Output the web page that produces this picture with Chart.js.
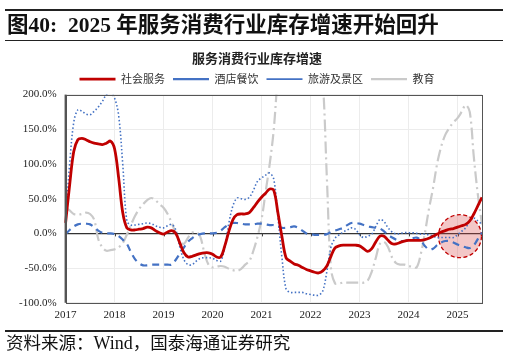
<!DOCTYPE html>
<html><head><meta charset="utf-8">
<script src="https://cdn.jsdelivr.net/npm/chart.js@4"></script>
<style>
html,body{margin:0;padding:0;background:#fff;}
#wrap{position:relative;width:512px;height:355px;overflow:hidden;}
#c{position:absolute;left:0;top:0;}
.hl{position:absolute;left:5px;width:498px;background:#222;}
#hdr{position:absolute;left:7px;top:7px;font-family:"Liberation Serif","Noto Sans CJK SC",serif;font-weight:bold;font-size:21.5px;color:#111;white-space:nowrap;}
#hdr .cj{font-family:"Noto Sans CJK SC",sans-serif;}
#ftr{position:absolute;left:6px;top:329px;font-family:"Noto Sans CJK SC","Liberation Serif",serif;font-size:17.5px;color:#111;white-space:nowrap;}
#ftr .w{font-family:"Liberation Serif",serif;font-size:18px;}
</style></head>
<body><div id="wrap">
<canvas id="c" width="512" height="355"></canvas>
<div class="hl" style="top:9px;height:2px"></div>
<div id="hdr"><span class="cj">图</span>40:&nbsp; 2025 <span class="cj">年服务消费行业库存增速开始回升</span></div>
<div class="hl" style="top:40px;height:1px"></div>
<div class="hl" style="top:330px;height:2px"></div>
<div id="ftr">资料来源：<span class="w">Wind</span>，国泰海通证券研究</div>
</div>
<script>
// ---- data (monthly, 2017-01 .. 2025-07) ----
const START_YEAR = 2017;
const N_MONTHS = 103;
const months = [];
for (let i = 0; i < N_MONTHS; i++) {
  const y = START_YEAR + Math.floor(i / 12), m = (i % 12) + 1;
  months.push(y + '-' + (m < 10 ? '0' + m : m));
}
const seriesNames = ['社会服务', '酒店餐饮', '旅游及景区', '教育'];
const socialService = [15,70,118,135,137,135,132,130,129,128,130,133,122,80,30,8,5,5,6,7,9,8,4,1,
 -1,2,4,0,-14,-28,-34,-33,-31,-29,-28,-28,-30,-34,-34,-18,3,20,27,28,28,30,37,45,
 52,58,64,62,30,-5,-35,-40,-44,-46,-49,-52,-54,-56,-57,-54,-47,-33,-21,-18,-17,-17,-17,-17,
 -18,-22,-26,-22,-12,-4,-4,-10,-15,-15,-13,-11,-10,-10,-10,-10,-9,-7,-4,-1,2,4,6,7,
 9,11,13,18,28,40,52];
const hotelCatering = [-1,5,10,13,14,14,13,9,4,1,0,0,-1,-4,-9,-15,-27,-37,-43,-46,-46,-45,-45,-45,
 -45,-45,-45,-38,-29,-20,-12,-7,-3,-1,0,0,0,1,4,9,13,15,15,14,13,13,13,14,
 14,13,12,12,10,8,8,9,10,8,4,0,-1,-2,-2,-2,-1,2,4,6,8,12,15,15,
 14,12,10,9,8,7,3,-2,-6,-9,-11,-11,-9,-7,-6,-10,-18,-23,-22,-17,-13,-11,-11,-13,
 -16,-18,-20,-21,-17,-8,1];
const tourism = [18,100,160,178,176,172,171,176,182,190,200,202,195,170,100,18,12,12,13,14,15,14,11,9,
 8,11,13,5,-20,-38,-45,-45,-40,-36,-35,-35,-36,-39,-40,-20,15,40,51,50,49,52,62,75,
 80,84,87,78,25,-35,-80,-85,-85,-85,-85,-87,-88,-89,-89,-83,-55,-20,-7,-2,2,5,8,6,
 -2,-6,-4,-1,10,20,17,8,2,-1,0,1,1,1,0,-1,-1,-2,-4,-6,-6,-6,-6,-6,
 -2,3,8,18,22,18,13];
const education = [37,33,28,27,28,30,28,20,-8,-20,-25,-24,-23,-20,-14,-2,12,25,35,42,48,51,48,42,
 37,28,15,0,-12,-15,-6,1,2,-5,-28,-45,-49,-48,-47,-48,-51,-53,-54,-51,-45,-40,-25,-5,
 20,60,100,150,230,290,310,320,320,320,320,320,310,290,260,220,80,-50,-72,-72,-71,-71,-71,-71,
 -71,-71,-68,-55,-35,-15,-12,-20,-35,-43,-45,-45,-47,-48,-49,-30,0,35,65,100,125,142,152,160,
 166,175,185,175,110,55,13];
const yTicks = [-100, -50, 0, 50, 100, 150, 200];
const highlight = { month: 96.6, value: -4 };   // circled region (index, %)

// ---- plugins ----
const shiftHeadPlugin = {
  id: 'shiftHead',
  afterLayout(chart) {
    const dx = 11;
    [chart.titleBlock, chart.legend].forEach(b => { if (b) { b.left += dx; b.right += dx; } });
  }
};
const framePlugin = {
  id: 'frame',
  beforeDatasetsDraw(chart) {
    const { ctx, chartArea: a, scales: { x, y } } = chart;
    const y0 = y.getPixelForValue(0);
    ctx.save();
    ctx.strokeStyle = '#404040'; ctx.lineWidth = 1;
    for (let i = 0; i < months.length; i += 12) {
      const px = Math.round(x.getPixelForValue(i)) + 0.5;
      ctx.beginPath(); ctx.moveTo(px, y0); ctx.lineTo(px, y0 + 3); ctx.stroke();
    }
    const cx = x.getPixelForValue(highlight.month), cy = y.getPixelForValue(highlight.value);
    ctx.beginPath(); ctx.arc(cx, cy, 21.5, 0, Math.PI * 2);
    ctx.fillStyle = 'rgba(215,70,70,0.3)'; ctx.fill();
    ctx.setLineDash([4, 2.5]); ctx.strokeStyle = '#C00000'; ctx.lineWidth = 1.3; ctx.stroke();
    ctx.restore();
  },
  afterDraw(chart) {
    const { ctx, chartArea: a } = chart;
    ctx.save();
    ctx.strokeStyle = '#555'; ctx.lineWidth = 1;
    ctx.strokeRect(Math.round(a.left) + 0.5, Math.round(a.top) + 0.5, Math.round(a.right - a.left), Math.round(a.bottom - a.top));
    ctx.lineWidth = 2;
    ctx.beginPath(); ctx.moveTo(a.left, a.top); ctx.lineTo(a.left, a.bottom); ctx.stroke();
    ctx.restore();
  }
};

const ds = (label, data, color, width, dash) => ({
  label, data, borderColor: color, backgroundColor: color, borderWidth: width,
  borderDash: dash, pointRadius: 0, tension: 0.35, fill: false
});

new Chart(document.getElementById('c'), {
  type: 'line',
  data: {
    labels: months,
    datasets: [
      ds(seriesNames[0], socialService, '#C00000', 2.8, []),
      ds(seriesNames[1], hotelCatering, '#4472C4', 2.2, [7, 5]),
      ds(seriesNames[2], tourism, '#4472C4', 1.6, [1.5, 2.2]),
      ds(seriesNames[3], education, '#CACACA', 2.2, [12, 4, 2, 4])
    ]
  },
  options: {
    responsive: false, animation: false, devicePixelRatio: 1,
    layout: { padding: { left: 10, right: 30, top: 50, bottom: 27 } },
    plugins: {
      title: { display: true, text: '服务消费行业库存增速', color: '#222',
        font: { family: '"Noto Sans CJK SC"', size: 13, weight: 'bold' }, padding: { top: 0, bottom: 0 } },
      legend: { display: true, labels: { usePointStyle: true, pointStyle: 'line', pointStyleWidth: 36,
        boxHeight: 8, color: '#333', padding: 8,
        font: { family: '"Noto Sans CJK SC"', size: 11 } } },
      tooltip: { enabled: false }
    },
    scales: {
      x: {
        type: 'category', offset: false,
        grid: { drawTicks: false, color: c => (c.index % 12 === 0 ? '#ececec' : 'rgba(0,0,0,0)'), lineWidth: 1 },
        border: { display: false },
        ticks: { autoSkip: false, maxRotation: 0, padding: 6, color: '#222',
          font: { family: '"Liberation Serif"', size: 11 },
          callback: (v, i) => (i % 12 === 0 ? months[i].slice(0, 4) : '') }
      },
      y: {
        min: -100, max: 200,
        afterBuildTicks: s => { s.ticks = yTicks.map(v => ({ value: v })); },
        grid: { drawTicks: false, color: c => (c.tick && c.tick.value === 0 ? '#333' : '#ececec'),
          lineWidth: c => (c.tick && c.tick.value === 0 ? 1.3 : 1) },
        border: { display: false },
        ticks: { padding: 9, color: '#222', font: { family: '"Liberation Serif"', size: 11 },
          callback: v => v.toFixed(1) + '%' }
      }
    }
  },
  plugins: [framePlugin, shiftHeadPlugin]
});
</script>
</body></html>
